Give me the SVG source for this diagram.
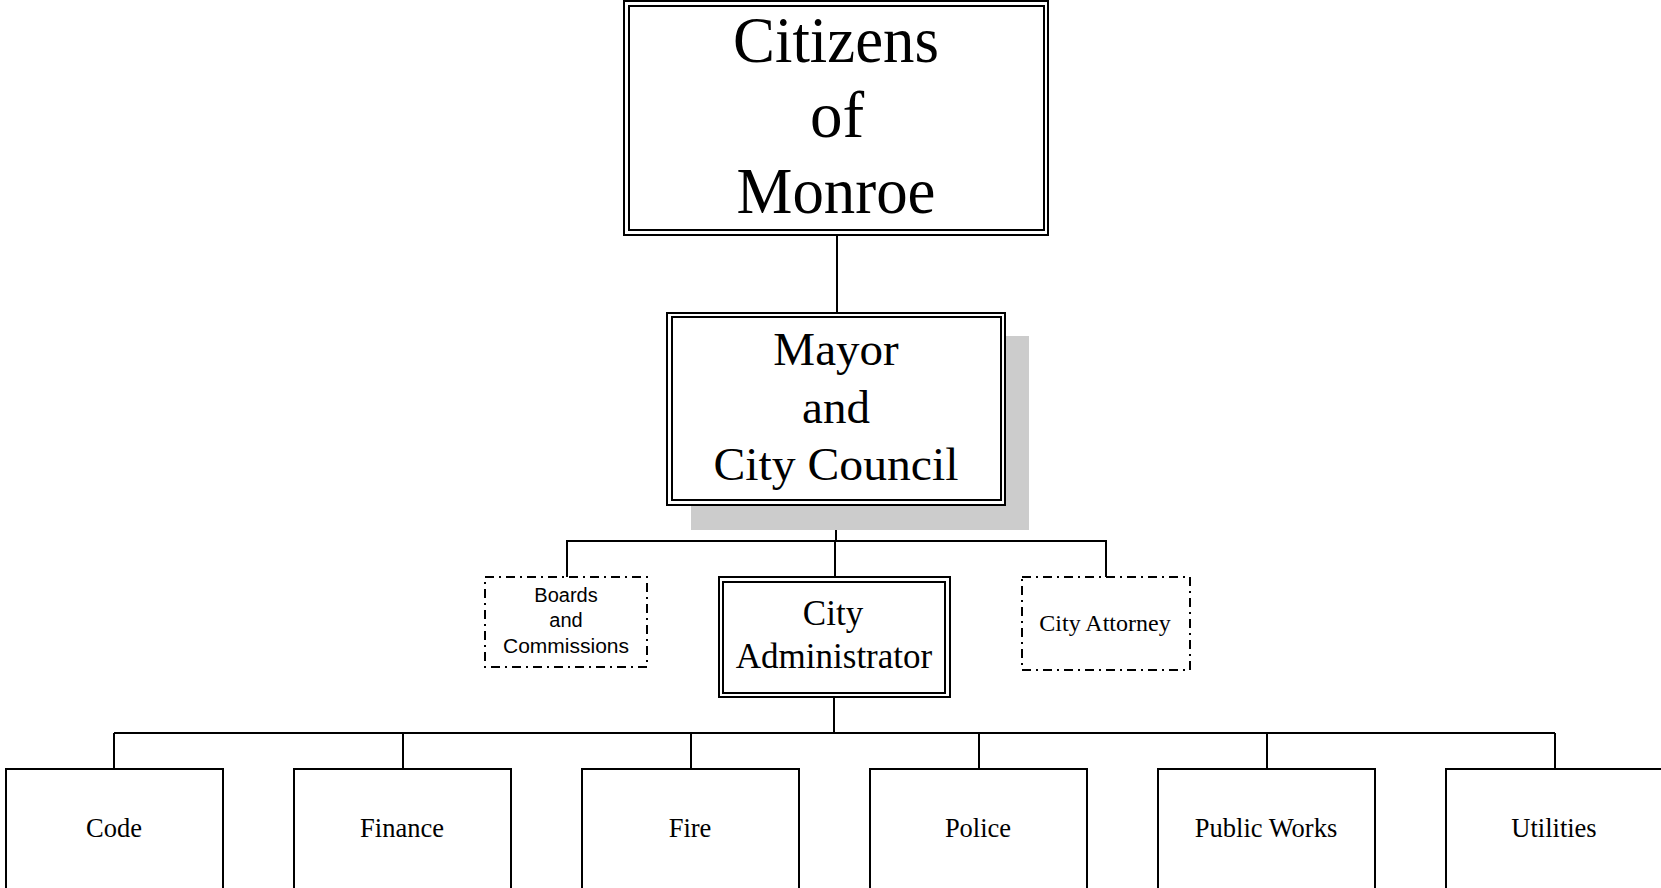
<svg xmlns="http://www.w3.org/2000/svg" width="1661" height="888" viewBox="0 0 1661 888">
<style>
.bx{fill:#fff;stroke:#000;stroke-width:2}
.dd{fill:#fff;stroke:#000;stroke-width:2;stroke-dasharray:9 5 2 5}
.ln{fill:none;stroke:#000;stroke-width:2}
.t{font-family:"Liberation Serif","Times New Roman",serif;fill:#000;text-anchor:middle}
.s{font-family:"Liberation Sans",Arial,sans-serif;fill:#000;text-anchor:middle}
</style>
<rect width="1661" height="888" fill="#fff"/>
<g id="connectors">
<line class="ln" x1="837" y1="235" x2="837" y2="313"/>
<line class="ln" x1="836" y1="505" x2="836" y2="541"/>
<polyline class="ln" points="567,577 567,541 1106,541 1106,577"/>
<line class="ln" x1="835" y1="541" x2="835" y2="577"/>
<line class="ln" x1="834" y1="697" x2="834" y2="733" stroke-width="3"/>
<line class="ln" x1="114" y1="733" x2="1555" y2="733"/>
<line class="ln" x1="114" y1="733" x2="114" y2="769"/>
<line class="ln" x1="403" y1="733" x2="403" y2="769"/>
<line class="ln" x1="691" y1="733" x2="691" y2="769"/>
<line class="ln" x1="979" y1="733" x2="979" y2="769"/>
<line class="ln" x1="1267" y1="733" x2="1267" y2="769"/>
<line class="ln" x1="1555" y1="733" x2="1555" y2="769"/>
</g>
<g id="citizens">
<rect class="bx" x="624" y="1" width="424" height="234"/>
<rect class="bx" x="629" y="6" width="415" height="224"/>
<text class="t" x="836" y="62" font-size="65" textLength="206" lengthAdjust="spacingAndGlyphs">Citizens</text>
<text class="t" x="837" y="137" font-size="65">of</text>
<text class="t" x="836" y="213" font-size="65" textLength="199" lengthAdjust="spacingAndGlyphs">Monroe</text>
</g>
<g id="mayor">
<rect x="691" y="336" width="338" height="194" fill="#cccccc"/>
<rect class="bx" x="667" y="313" width="338" height="192"/>
<rect class="bx" x="672" y="317" width="329" height="183"/>
<text class="t" x="836" y="365" font-size="47">Mayor</text>
<text class="t" x="836" y="423" font-size="47">and</text>
<text class="t" x="836" y="480" font-size="47" textLength="245" lengthAdjust="spacingAndGlyphs">City Council</text>
</g>
<g id="boards">
<rect class="dd" x="485" y="577" width="162" height="90"/>
<text class="s" x="566" y="602" font-size="20">Boards</text>
<text class="s" x="566" y="627" font-size="20">and</text>
<text class="s" x="566" y="653" font-size="20" textLength="126" lengthAdjust="spacingAndGlyphs">Commissions</text>
</g>
<g id="administrator">
<rect class="bx" x="719" y="577" width="231" height="120"/>
<rect class="bx" x="723" y="582" width="222" height="111"/>
<text class="t" x="833" y="625" font-size="35">City</text>
<text class="t" x="834" y="668" font-size="35">Administrator</text>
</g>
<g id="attorney">
<rect class="dd" x="1022" y="577" width="168" height="93"/>
<text class="t" x="1105" y="631" font-size="24">City Attorney</text>
</g>
<g id="code"><rect class="bx" x="6" y="769" width="217" height="130"/><text class="t" x="114" y="837" font-size="26.5">Code</text></g>
<g id="finance"><rect class="bx" x="294" y="769" width="217" height="130"/><text class="t" x="402" y="837" font-size="26.5">Finance</text></g>
<g id="fire"><rect class="bx" x="582" y="769" width="217" height="130"/><text class="t" x="690" y="837" font-size="26.5">Fire</text></g>
<g id="police"><rect class="bx" x="870" y="769" width="217" height="130"/><text class="t" x="978" y="837" font-size="26.5">Police</text></g>
<g id="publicworks"><rect class="bx" x="1158" y="769" width="217" height="130"/><text class="t" x="1266" y="837" font-size="26.5">Public Works</text></g>
<g id="utilities"><rect class="bx" x="1446" y="769" width="217" height="130"/><text class="t" x="1554" y="837" font-size="26.5">Utilities</text></g>
</svg>
